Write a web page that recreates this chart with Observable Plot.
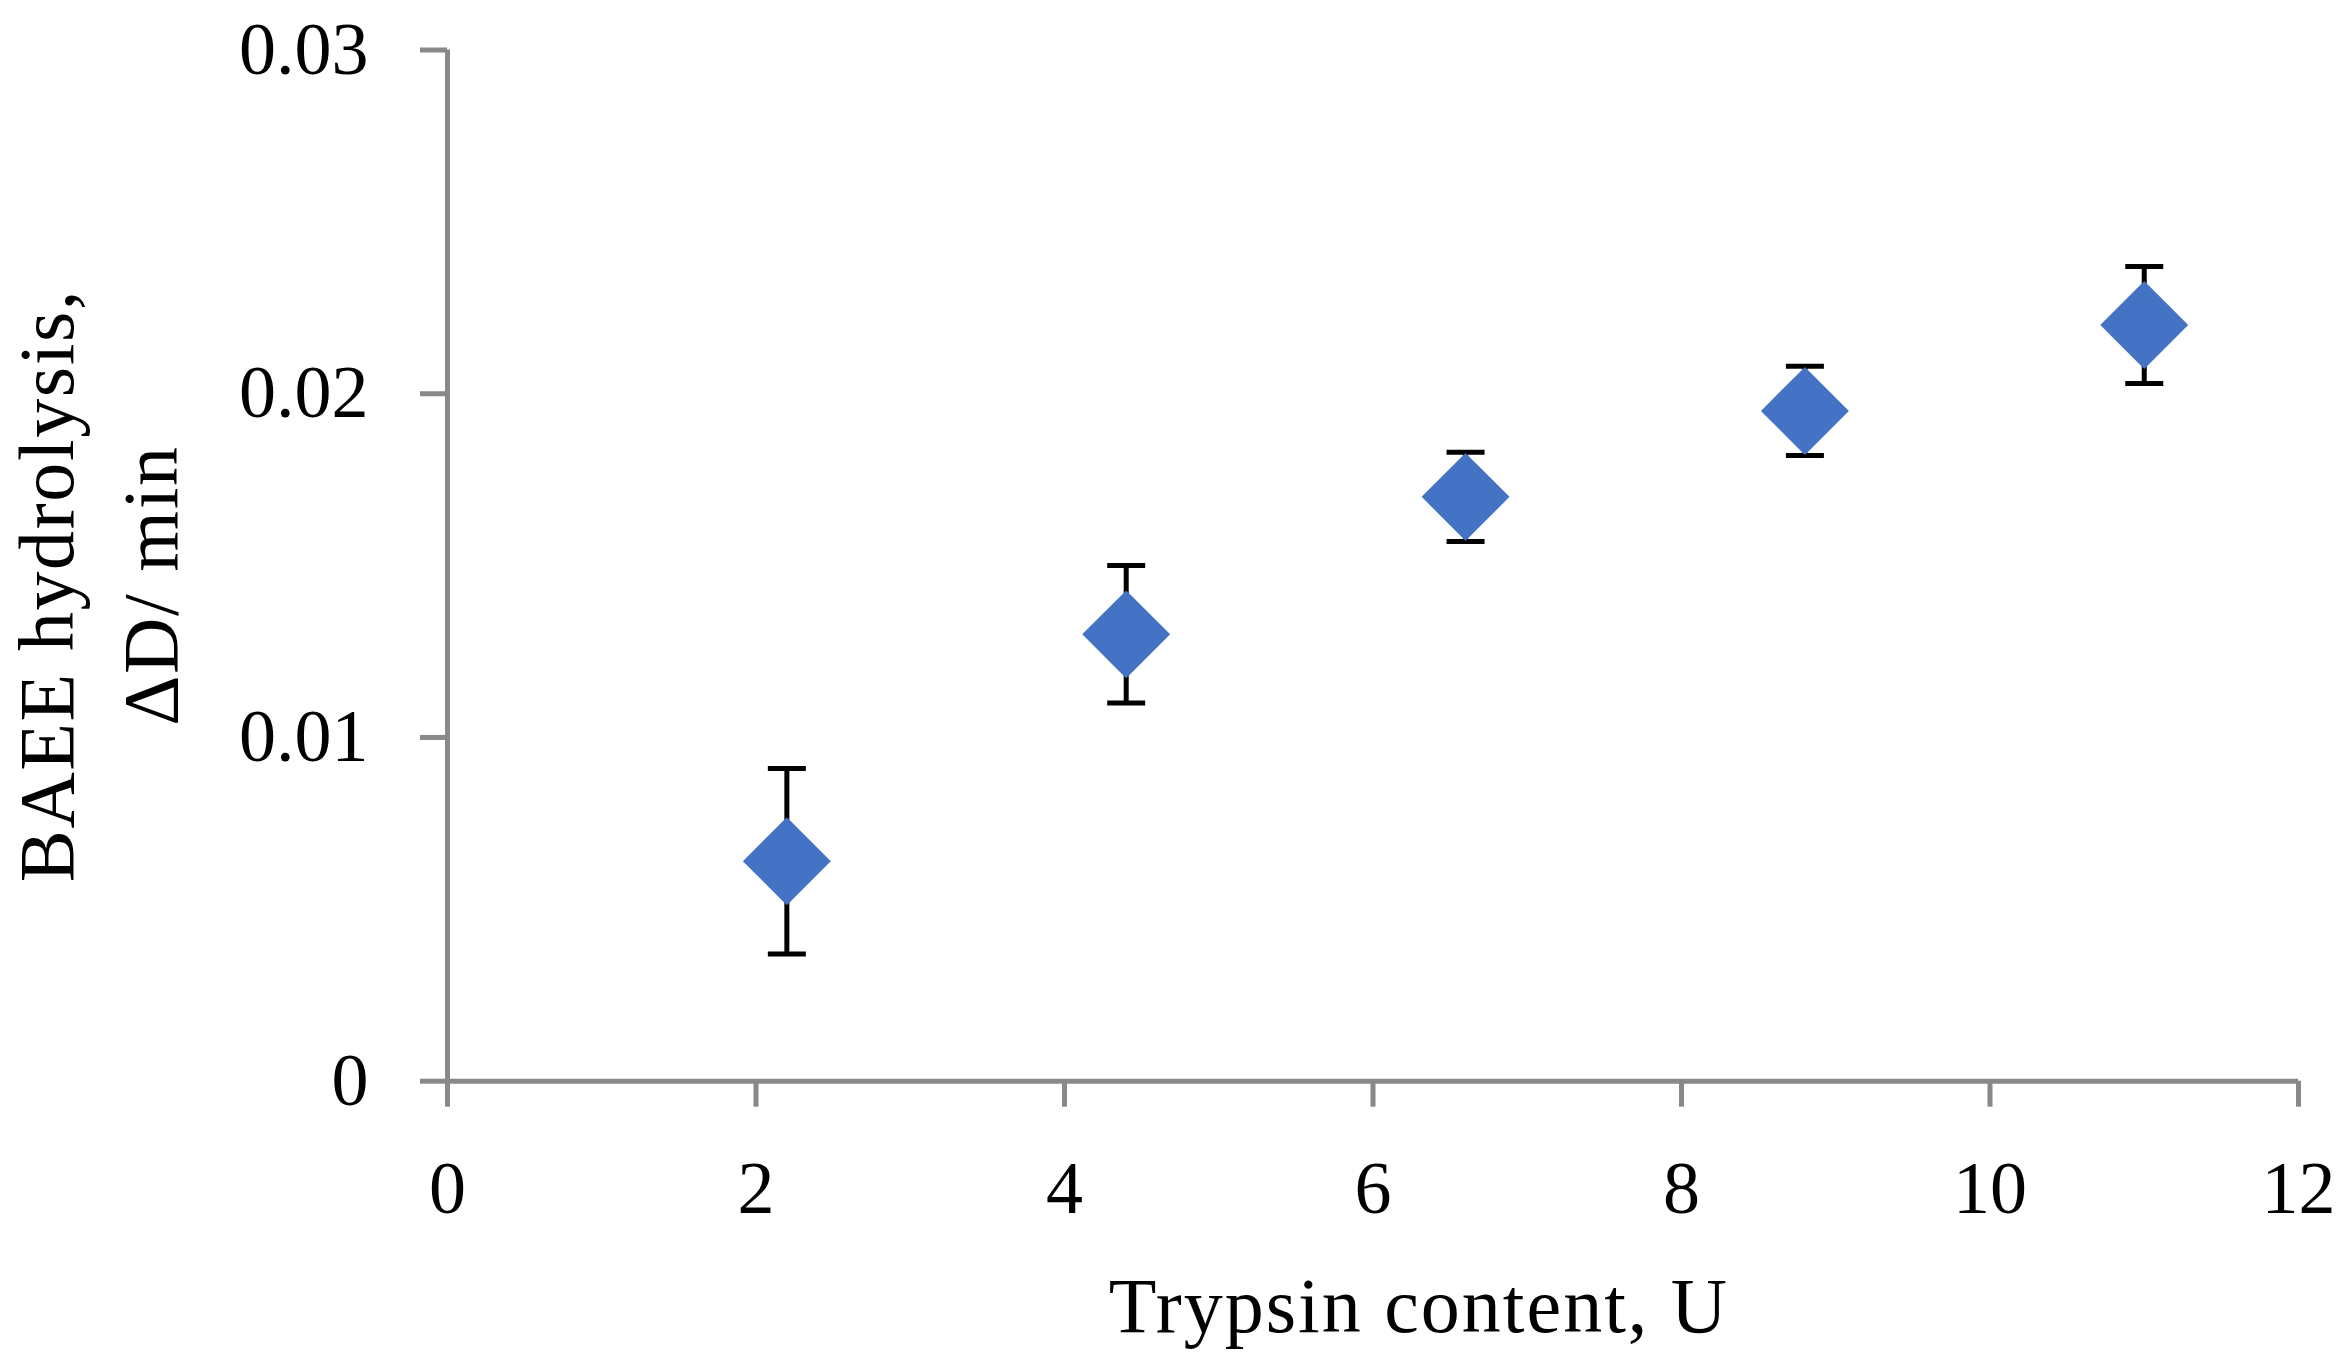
<!DOCTYPE html>
<html>
<head>
<meta charset="utf-8">
<script src="https://cdn.jsdelivr.net/npm/d3@7"></script>
<script src="https://cdn.jsdelivr.net/npm/@observablehq/plot@0.6"></script>
<style>
  html, body { margin: 0; padding: 0; background: #ffffff; }
  #chart svg { display: block; }
</style>
</head>
<body>
<div id="chart"></div>
<script>
// Data
const trypsin = [2.2, 4.4, 6.6, 8.8, 11];
const hydrolysis = [0.0064, 0.0130, 0.0170, 0.0195, 0.0220];
const errors = [0.0027, 0.0020, 0.0013, 0.0013, 0.0017];

const xTicks = [0, 2, 4, 6, 8, 10, 12];
const yTicks = [0, 0.01, 0.02, 0.03];
const yTickLabels = ["0", "0.01", "0.02", "0.03"];

const xLabel = "Trypsin content, U";
const yLabel = "BAEE hydrolysis,\nΔD/ min";

const points = trypsin.map((x, i) => ({x, y: hydrolysis[i], lo: hydrolysis[i] - errors[i], hi: hydrolysis[i] + errors[i]}));

const axisColor = "#898989";
const markerColor = "#4472C4";
const font = "Liberation Serif";

const capSymbol = {
  draw(context) {
    const r = 19;
    context.moveTo(-r, 0);
    context.lineTo(r, 0);
  }
};

const chart = Plot.plot({
  width: 2350,
  height: 1363,
  marginLeft: 447,
  marginRight: 52,
  marginTop: 49.5,
  marginBottom: 282.3,
  style: {fontFamily: font, fontSize: "74px", background: "#ffffff", color: "#000000"},
  x: {domain: [0, 12]},
  y: {domain: [0, 0.03]},
  marks: [
    Plot.axisX({ticks: xTicks, tickSize: 26, tickPadding: 53, stroke: axisColor, strokeWidth: 5, fill: "#000000", fontSize: 74, label: null, tickFormat: d => String(d)}),
    Plot.axisY({ticks: yTicks, tickSize: 27, tickPadding: 52, stroke: axisColor, strokeWidth: 5, fill: "#000000", fontSize: 74, label: null,
      tickFormat: d => yTickLabels[yTicks.indexOf(d)]}),
    Plot.ruleY([0], {x1: 0, x2: 12, stroke: axisColor, strokeWidth: 5}),
    Plot.ruleX([0], {y1: 0, y2: 0.03, stroke: axisColor, strokeWidth: 5}),
    Plot.ruleX(points, {x: "x", y1: "lo", y2: "hi", stroke: "#000000", strokeWidth: 5}),
    Plot.dot(points, {x: "x", y: "lo", symbol: capSymbol, stroke: "#000000", strokeWidth: 5, r: 10}),
    Plot.dot(points, {x: "x", y: "hi", symbol: capSymbol, stroke: "#000000", strokeWidth: 5, r: 10}),
    Plot.dot(points, {x: "x", y: "y", symbol: "diamond2", fill: markerColor, stroke: "none", r: 39.6}),
    Plot.text([xLabel], {text: d => d, frameAnchor: "bottom", textAnchor: "middle", lineAnchor: "bottom", dx: 46, dy: 251, fontSize: 78, fill: "#000000"}),
    Plot.text([yLabel], {text: d => d, frameAnchor: "left", textAnchor: "middle", rotate: -90, lineAnchor: "middle", lineHeight: 1.33, dx: -356, dy: 20, fontSize: 78, fill: "#000000"})
  ]
});

// letter spacing on axis titles to mimic the wider Palatino face of the reference
chart.querySelectorAll("text").forEach(t => {
  if (t.textContent.startsWith("Trypsin")) t.setAttribute("letter-spacing", "2");
  if (t.textContent.startsWith("BAEE")) t.setAttribute("letter-spacing", "1.6");
});

document.getElementById("chart").appendChild(chart);
</script>
</body>
</html>
